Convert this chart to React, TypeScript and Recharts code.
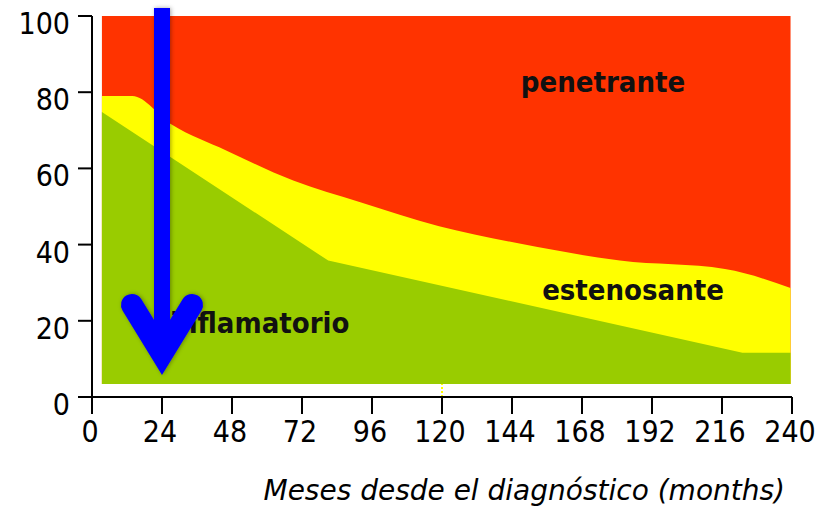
import React from 'react';
import { AreaChart, Area, XAxis, YAxis, ReferenceLine, ReferenceDot, Label } from 'recharts';

// All three bands start from this common floor (%)
const BAND_FLOOR = 3.4;

// Upper edge of the "penetrante" band: months since diagnosis and %
const penetranteMonths = [3.4, 239.5];
const penetranteTop = [100, 100];

// Upper edge of the "estenosante" band
const estenosanteMonths = [3.4, 13.8, 27.3, 46, 69, 92, 119, 147, 181, 217, 239.5];
const estenosanteTop = [79, 79, 71.5, 64.7, 56.8, 51.1, 44.8, 40.2, 35.8, 33.6, 28.6];

// Upper edge of the "inflamatorio" band
const inflamatorioMonths = [3.4, 81, 223, 239.5];
const inflamatorioTop = [74.8, 35.8, 11.6, 11.6];

const xTicks = [0, 24, 48, 72, 96, 120, 144, 168, 192, 216, 240];
const yTicks = [0, 20, 40, 60, 80, 100];

const toSeries = (months: number[], values: number[]) =>
  months.map((month, i) => ({ month, value: values[i] }));

const penetranteData = toSeries(penetranteMonths, penetranteTop);
const estenosanteData = toSeries(estenosanteMonths, estenosanteTop);
const inflamatorioData = toSeries(inflamatorioMonths, inflamatorioTop);

const FONT = "'DejaVu Sans Condensed', 'DejaVu Sans', sans-serif";

const YTick = (props: any) => {
  const { x, y, payload } = props;
  return (
    <text x={x} y={y} dy={18} textAnchor="end" fontFamily={FONT} fontStretch="condensed" fontSize={30} fill="#000">
      {payload.value}
    </text>
  );
};

const XTick = (props: any) => {
  const { x, y, payload } = props;
  return (
    <text x={x} y={y} dx={-2} dy={26} textAnchor="middle" fontFamily={FONT} fontStretch="condensed" fontSize={30} fill="#000">
      {payload.value}
    </text>
  );
};

const bandLabel = (text: string) => (props: any) => {
  const vb = props.viewBox || {};
  const cx = (vb.x ?? 0) + (vb.width ?? 0) / 2;
  const cy = (vb.y ?? 0) + (vb.height ?? 0) / 2;
  return (
    <text x={cx} y={cy} textAnchor="middle" fontFamily={FONT} fontStretch="condensed" fontWeight="bold" fontSize={29} fill="#111">
      {text}
    </text>
  );
};

const ArrowShape = (props: any) => {
  const { x1, y1, x2, y2 } = props;
  return (
    <g>
      <defs>
        <filter id="arrowShadow" x="-50%" y="-10%" width="200%" height="120%">
          <feDropShadow dx="1" dy="0" stdDeviation="2" floodColor="#000" floodOpacity="0.35" />
        </filter>
      </defs>
      <g filter="url(#arrowShadow)">
        <line x1={x1} y1={y1} x2={x2} y2={y2} stroke="#0000ff" strokeWidth={16} />
        <polyline
          points={`${x2 - 30},${y2 - 49} ${x2},${y2} ${x2 + 30},${y2 - 49}`}
          fill="none"
          stroke="#0000ff"
          strokeWidth={22}
          strokeLinecap="round"
          strokeLinejoin="miter"
        />
      </g>
    </g>
  );
};

const axisTitle = (props: any) => {
  const vb = props.viewBox || {};
  return (
    <text
      x={vb.x + vb.width - 7}
      y={vb.y + vb.height - 10}
      textAnchor="end"
      fontFamily="'DejaVu Sans', sans-serif"
      fontStyle="italic"
      fontSize={28}
      fill="#000"
    >
      Meses desde el diagnóstico (months)
    </text>
  );
};

export default function App() {
  return (
    <div style={{ width: 829, height: 510, background: '#fff' }}>
      <style>{'body{margin:0}'}</style>
      <AreaChart width={829} height={510} margin={{ top: 16, right: 37, left: 0, bottom: 0 }}>
        <XAxis
          dataKey="month"
          type="number"
          domain={[0, 240]}
          ticks={xTicks}
          allowDataOverflow
          height={113}
          tickSize={17}
          tickMargin={2}
          stroke="#000"
          strokeWidth={2}
          tickLine={{ stroke: '#000', strokeWidth: 2 }}
          tick={<XTick />}
          interval={0}
        >
          <Label content={axisTitle} />
        </XAxis>
        <YAxis
          type="number"
          domain={[0, 100]}
          ticks={yTicks}
          allowDataOverflow
          width={92}
          tickSize={14}
          tickMargin={8}
          stroke="#000"
          strokeWidth={2}
          tickLine={{ stroke: '#000', strokeWidth: 2 }}
          tick={<YTick />}
          interval={0}
        />
        {/* Bands are painted back to front, each from the common floor */}
        <Area
          data={penetranteData}
          type="linear"
          dataKey="value"
          baseValue={BAND_FLOOR}
          stroke="none"
          fill="#ff3300"
          fillOpacity={1}
          isAnimationActive={false}
          dot={false}
          activeDot={false}
        />
        <Area
          data={estenosanteData}
          type="monotone"
          dataKey="value"
          baseValue={BAND_FLOOR}
          stroke="none"
          fill="#ffff00"
          fillOpacity={1}
          isAnimationActive={false}
          dot={false}
          activeDot={false}
        />
        <Area
          data={inflamatorioData}
          type="linear"
          dataKey="value"
          baseValue={BAND_FLOOR}
          stroke="none"
          fill="#99cc00"
          fillOpacity={1}
          isAnimationActive={false}
          dot={false}
          activeDot={false}
        />
        <ReferenceLine
          segment={[{ x: 120, y: 0 }, { x: 120, y: BAND_FLOOR }]}
          stroke="#ffff00"
          strokeWidth={2}
          strokeDasharray="2 2"
          ifOverflow="visible"
        />
        <ReferenceDot x={175.2} y={80.1} r={0} fill="none" stroke="none" ifOverflow="visible" label={{ content: bandLabel('penetrante') } as any} />
        <ReferenceDot x={185.5} y={25.5} r={0} fill="none" stroke="none" ifOverflow="visible" label={{ content: bandLabel('estenosante') } as any} />
        <ReferenceDot x={57.5} y={16.9} r={0} fill="none" stroke="none" ifOverflow="visible" label={{ content: bandLabel('inflamatorio') } as any} />
        <ReferenceLine
          segment={[{ x: 24, y: 102.1 }, { x: 24, y: 11.3 }]}
          ifOverflow="visible"
          shape={ArrowShape}
          {...({ zIndex: 3000 } as any)}
        />
      </AreaChart>
    </div>
  );
}
